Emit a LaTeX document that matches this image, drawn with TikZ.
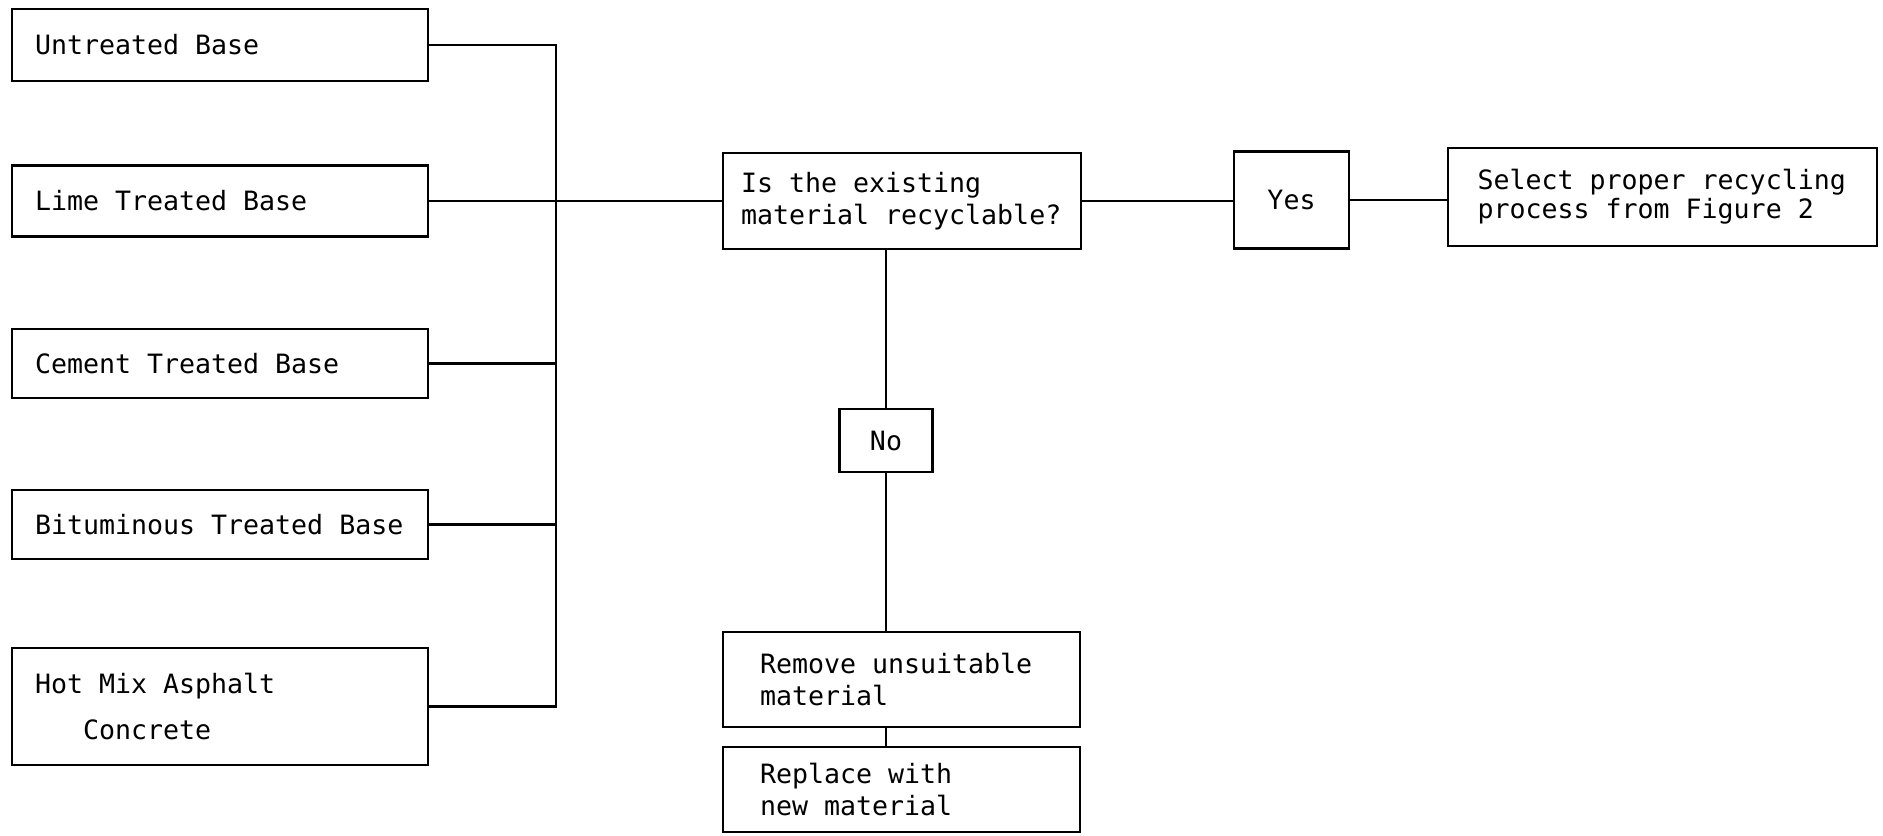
\documentclass[tikz,border=0pt]{standalone}
\usepackage{fontspec}
\newfontfamily\flowfont{DejaVu Sans Mono}
\usepackage{tikz}
\usetikzlibrary{positioning,calc}

% fixed-pitch spaces, same width as the letters
\newcommand\flowtext[1]{\flowfont\fontsize{13.3pt}{#1}\selectfont
  \fontdimen2\font=\fontcharwd\font`a\fontdimen3\font=0pt\fontdimen4\font=0pt}

\tikzset{
  flowbox/.style={draw, line width=1.4pt, inner ysep=0pt, align=flush left,
    font=\flowtext{16pt}},
  basebox/.style={flowbox, text width=185pt, inner xsep=11.5pt},
  flowline/.style={line width=1.4pt}
}

\begin{document}
\begin{tikzpicture}[x=0.5pt,y=-0.5pt]
\useasboundingbox (0,0) rectangle (1883,835);

%%% base types
\node[basebox, minimum height=36pt] (untreated) at (220,45) {Untreated Base};
\node[basebox, minimum height=35.5pt] (lime) at (220,201) {Lime Treated Base};
\node[basebox, minimum height=34.5pt] (cement) at (220,363.5) {Cement Treated Base};
\node[basebox, minimum height=34.5pt] (bituminous) at (220,524.5) {Bituminous Treated Base};
\node[basebox, minimum height=58.5pt] (hotmix) at (220,706.5) {Hot Mix Asphalt\\[7pt]\phantom{Hot}Concrete};
\coordinate (bus) at (556,0);

%%% decision
\node[flowbox, text width=161pt, inner xsep=9pt, minimum height=48pt] (question) at (902,201) {Is the existing\\material recyclable?};
\node[flowbox, align=flush center, minimum width=57.5pt, minimum height=48.5pt] (yes) at (1291.5,200) {Yes};
\node[flowbox, text width=185pt, inner xsep=14.75pt, minimum height=49pt,
  font=\flowtext{14.5pt}] (select) at (1662.5,197) {Select proper recycling\\process from Figure 2};
\node[flowbox, align=flush center, minimum width=46.5pt, minimum height=31.5pt] (no) at (886,440.5) {No};
\node[flowbox, text width=141.5pt, inner xsep=18.5pt, minimum height=47.5pt] (remove) at (901.5,679.5) {Remove unsuitable\\material};
\node[flowbox, text width=141.5pt, inner xsep=18.5pt, minimum height=42.5pt] (replace) at (901.5,789.5) {Replace with\\new material};

%%% connectors
\draw[flowline] (untreated.east) -- (untreated.east -| bus) -- (hotmix.east -| bus) -- (hotmix.east);
\foreach \n in {cement,bituminous}
  \draw[flowline] (\n.east) -- (\n.east -| bus);
\draw[flowline] (lime.east) -- (lime.east -| question.west);
\draw[flowline] (question.east) -- (question.east -| yes.west);
\draw[flowline] (yes.east) -- (yes.east -| select.west);
\draw[flowline] (no.north |- question.south) -- (no.north);
\draw[flowline] (no.south) -- (no.south |- remove.north);
\draw[flowline] (no.south |- remove.south) -- (no.south |- replace.north);

\end{tikzpicture}
\end{document}
